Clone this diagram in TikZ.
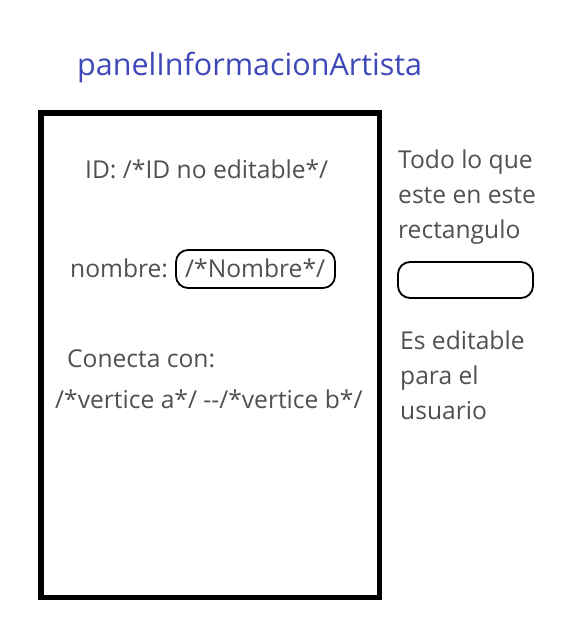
\documentclass[tikz,border=0pt]{standalone}
\usepackage{fontspec}
\setmainfont{Open Sans}
\usetikzlibrary{positioning}
\definecolor{titleblue}{HTML}{3F48B8}
\definecolor{textgray}{HTML}{505050}

\begin{document}
\begin{tikzpicture}[x=1pt,y=-1pt,
    txt/.style={anchor=base west,inner sep=0pt,text=textgray,font=\fontsize{24.6}{28}\selectfont},
    editbox/.style={draw,line width=1.8pt,rounded corners=12pt}]
    \useasboundingbox (0,0) rectangle (571,629);
    \node[anchor=base west,inner sep=0pt,text=titleblue,font=\fontsize{30.5}{34}\selectfont] (title) at (77,75) {panelInformacionArtista};

    \draw[line width=5.5pt] (41,113) rectangle (379.5,597.5);

    \node[txt] (id) at (85,178) {ID: /*ID no editable*/};
    \node[txt] (nombre) at (70,277) {nombre:};
    \node[txt] (nombreval) at (185,277) {/*Nombre*/};
    \draw[editbox] (176,250) rectangle (335,288);
    \node[txt] (conecta) at (67,367) {Conecta con:};
    \node[txt] (vertices) at (55,408) {/*vertice a*/ -{}-/*vertice b*/};

    \node[txt] (nota1) at (398,168) {Todo lo que};
    \node[txt] (nota2) at (398,203) {este en este};
    \node[txt] (nota3) at (398,238) {rectangulo};
    \draw[editbox] (398,262) rectangle (533,298);
    \node[txt] (nota4) at (400,349) {Es editable};
    \node[txt] (nota5) at (400,384) {para el};
    \node[txt] (nota6) at (400,419) {usuario};
\end{tikzpicture}
\end{document}
